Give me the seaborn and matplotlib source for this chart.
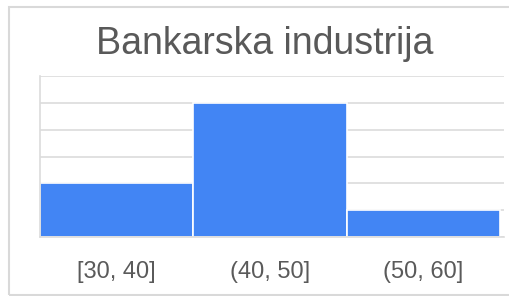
import matplotlib
matplotlib.use('Agg')
import matplotlib.pyplot as plt
import seaborn as sns
from matplotlib.patches import Rectangle

# Data
bin_edges = [30, 40, 50, 60]
bin_centers = [35, 45, 55]
counts = [2, 5, 1]
bin_labels = ['[30, 40]', '(40, 50]', '(50, 60]']

sns.set_style('white')
plt.rcParams['font.family'] = ['Liberation Sans', 'DejaVu Sans']

fig = plt.figure(figsize=(5.1, 2.96), dpi=100)
ax = fig.add_axes([40 / 510, 1 - 237 / 296, 464 / 510, 161 / 296])

sns.histplot(x=bin_centers, weights=counts, bins=bin_edges, ax=ax,
             color='#4285F4', alpha=1, edgecolor='white', linewidth=1.2)

ax.set_xlim(30, 60.27)
ax.set_ylim(0, 6)
ax.set_yticks(range(0, 7))
ax.set_yticklabels([])
ax.tick_params(axis='y', length=0)
ax.grid(axis='y', color='#dcdcdc', linewidth=1.2)
ax.set_axisbelow(True)

ax.set_xticks(bin_centers)
ax.set_xticklabels(bin_labels, fontsize=17, color='#5a5a5a')
ax.tick_params(axis='x', length=0, pad=17)
ax.set_xlabel('')
ax.set_ylabel('')

for side in ['top', 'right']:
    ax.spines[side].set_visible(False)
ax.spines['left'].set_color('#dcdcdc')
ax.spines['left'].set_linewidth(1.2)
ax.spines['bottom'].set_color('#dcdcdc')
ax.spines['bottom'].set_linewidth(1.2)

fig.text(265 / 510, 1 - 44 / 296, 'Bankarska industrija', fontsize=27,
         color='#595959', ha='center', va='center')

# outer frame
fig.patches.append(Rectangle((9.5 / 510, 1.5 / 296), 520 / 510, 288 / 296,
                             transform=fig.transFigure, fill=False,
                             edgecolor='#d9d9d9', linewidth=1.5))

fig.savefig('out.png', dpi=100)
